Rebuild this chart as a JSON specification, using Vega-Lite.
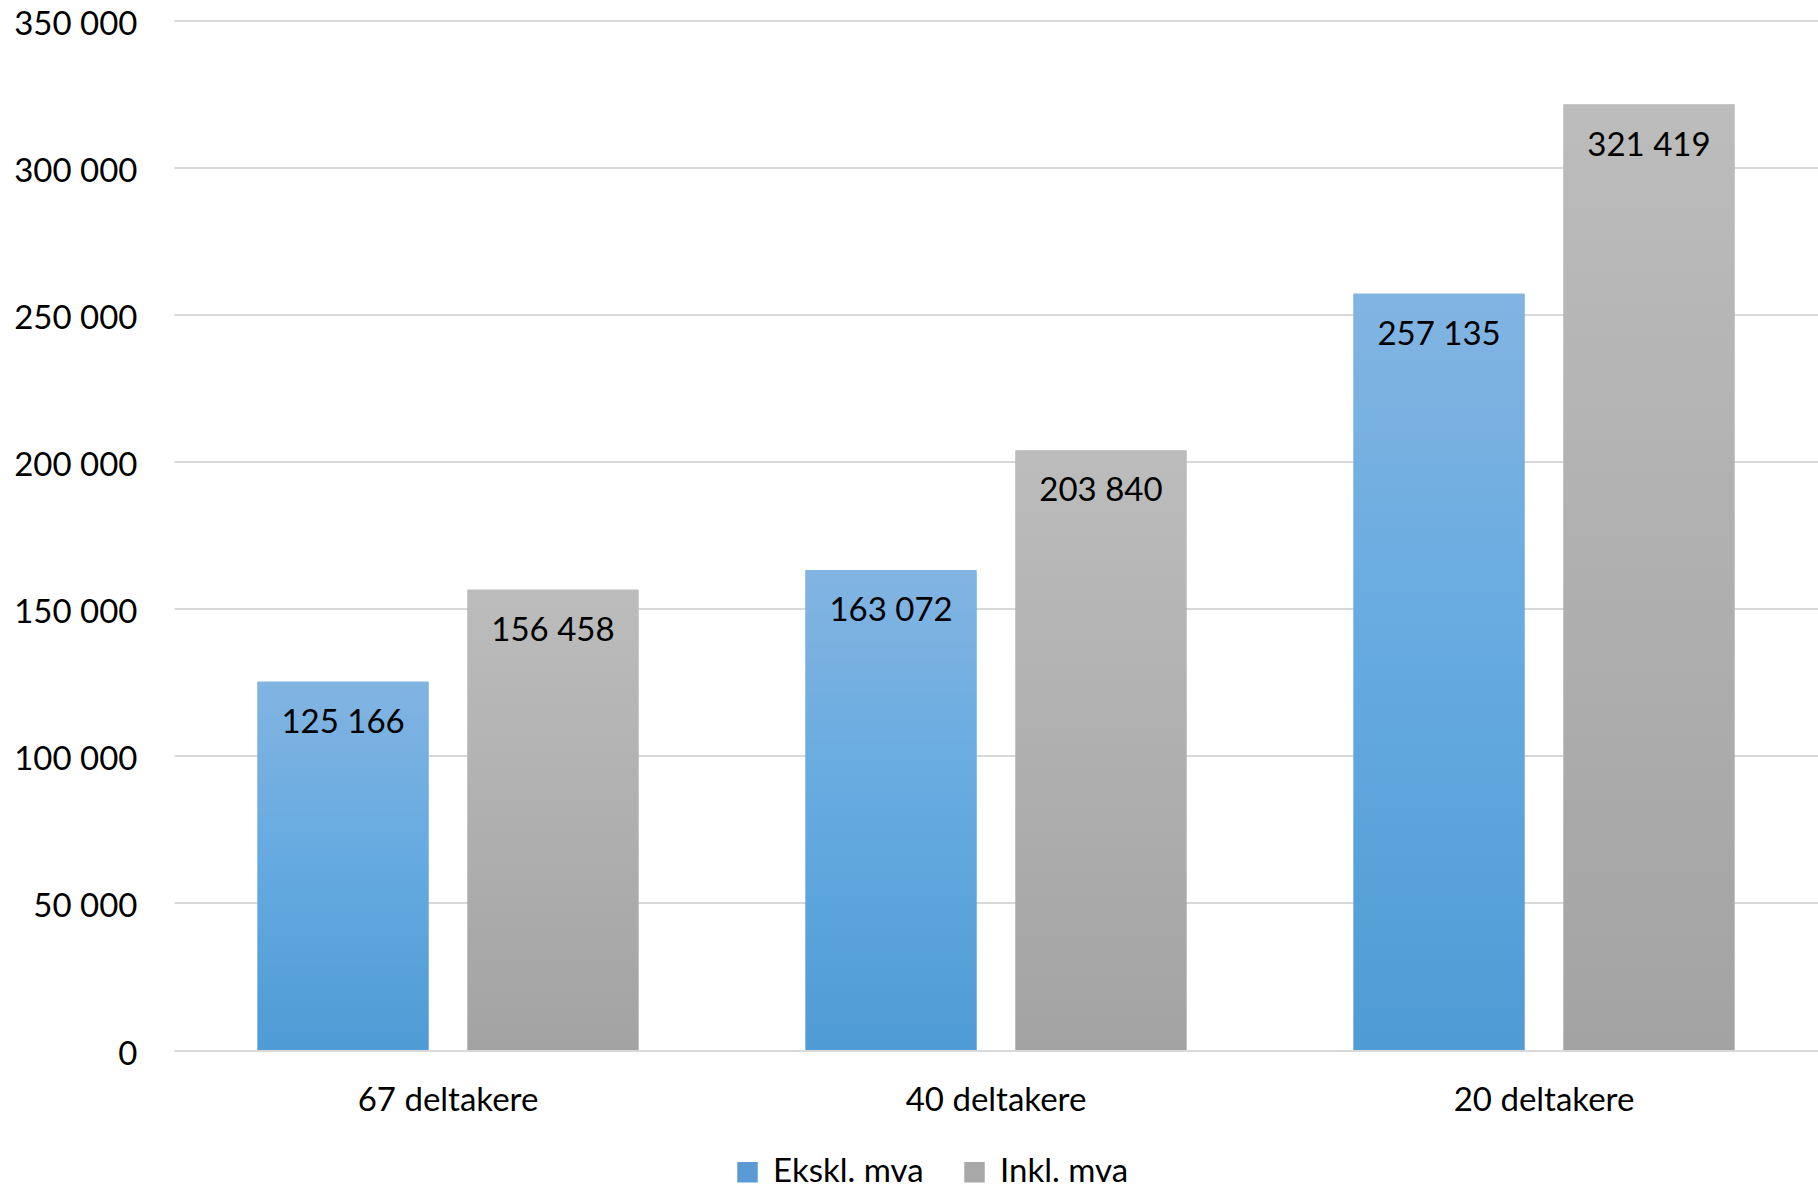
{
  "$schema": "https://vega.github.io/schema/vega-lite/v6.json",
  "autosize": {"type": "none"},
  "width": 1644,
  "height": 1029.5,
  "padding": {"left": 174, "top": 20.5, "right": 0, "bottom": 141},
  "background": "white",
  "config": {
    "locale": {"number": {"decimal": ",", "thousands": " ", "grouping": [3], "currency": ["", " kr"]}},
    "view": {"stroke": null},
    "font": "Lato"
  },
  "data": {
    "values": [
      {"gruppe": "67 deltakere", "serie": "Ekskl. mva", "verdi": 125166},
      {"gruppe": "67 deltakere", "serie": "Inkl. mva", "verdi": 156458},
      {"gruppe": "40 deltakere", "serie": "Ekskl. mva", "verdi": 163072},
      {"gruppe": "40 deltakere", "serie": "Inkl. mva", "verdi": 203840},
      {"gruppe": "20 deltakere", "serie": "Ekskl. mva", "verdi": 257135},
      {"gruppe": "20 deltakere", "serie": "Inkl. mva", "verdi": 321419}
    ]
  },
  "encoding": {
    "x": {
      "field": "gruppe", "type": "nominal", "sort": null, "title": null,
      "scale": {"paddingInner": 0, "paddingOuter": 0},
      "axis": {"labelAngle": 0, "ticks": false, "domain": false, "grid": false, "labelFont": "Lato", "labelFontSize": 33, "labelColor": "#000000", "labelBaseline": "middle", "labelPadding": 50, "labelLimit": 0}
    },
    "xOffset": {
      "field": "serie", "type": "nominal", "sort": ["Ekskl. mva", "Inkl. mva"],
      "scale": {"paddingInner": 0.186, "paddingOuter": 0.398}
    },
    "y": {
      "field": "verdi", "type": "quantitative", "title": null,
      "scale": {"domain": [0, 350000], "nice": false},
      "axis": {"values": [0, 50000, 100000, 150000, 200000, 250000, 300000, 350000], "format": ",d", "ticks": false, "domain": false, "grid": true, "gridColor": "#d9d9d9", "gridWidth": 2, "labelFont": "Lato", "labelFontSize": 33, "labelColor": "#000000", "labelPadding": 37, "labelOffset": 4}
    }
  },
  "layer": [
    {
      "mark": {"type": "bar"},
      "encoding": {
        "color": {
          "field": "serie", "type": "nominal", "sort": ["Ekskl. mva", "Inkl. mva"],
          "scale": {"domain": ["Ekskl. mva", "Inkl. mva"], "range": ["#5b9bd5", "#a9a9a9"]},
          "legend": {
            "title": null, "orient": "none", "direction": "horizontal",
            "legendX": 557, "legendY": 1135,
            "symbolType": "square", "symbolSize": 420, "symbolStrokeWidth": 0,
            "labelFont": "Lato", "labelFontSize": 33, "labelColor": "#000000",
            "labelOffset": 9, "columnPadding": 34
          }
        }
      }
    },
    {
      "mark": {"type": "bar"},
      "encoding": {
        "color": {
          "condition": {
            "test": "datum.serie === 'Ekskl. mva'",
            "value": {"gradient": "linear", "x1": 0, "y1": 0, "x2": 0, "y2": 1, "stops": [{"offset": 0, "color": "#82b4e2"}, {"offset": 0.5, "color": "#64aae0"}, {"offset": 1, "color": "#4f9bd5"}]}
          },
          "value": {"gradient": "linear", "x1": 0, "y1": 0, "x2": 0, "y2": 1, "stops": [{"offset": 0, "color": "#bcbcbc"}, {"offset": 1, "color": "#a3a3a3"}]}
        }
      }
    },
    {
      "mark": {"type": "text", "baseline": "middle", "align": "center", "dy": 41, "font": "Lato", "fontSize": 33, "color": "#000000"},
      "encoding": {
        "text": {"field": "verdi", "type": "quantitative", "format": ",d"}
      }
    }
  ]
}
